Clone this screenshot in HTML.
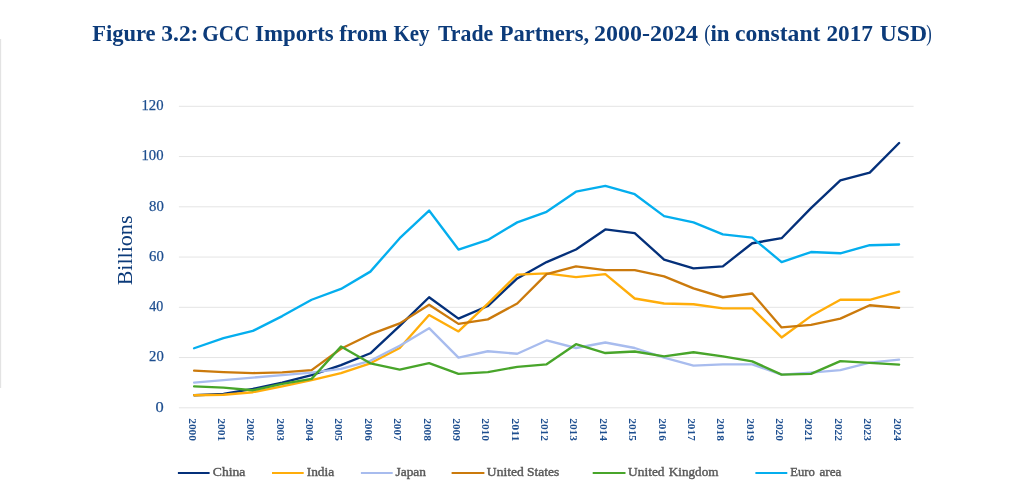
<!DOCTYPE html>
<html><head><meta charset="utf-8"><title>Figure 3.2</title>
<style>
html,body{margin:0;padding:0;background:#fff;}
body{width:1024px;height:503px;overflow:hidden;font-family:"Liberation Serif",serif;}
svg{display:block;will-change:transform;opacity:0.999;}
text{font-family:"Liberation Serif",serif;}
</style></head><body>
<svg width="1024" height="503" viewBox="0 0 1024 503">
<rect x="0" y="0" width="1024" height="503" fill="#ffffff"/>
<rect x="0" y="39" width="1.15" height="349" fill="#e3e3e3"/>
<g font-size="22.5" font-weight="bold" fill="#0c3b7a">
<text x="92.15" y="40.6" textLength="63.47" lengthAdjust="spacingAndGlyphs">Figure</text>
<text x="161.3" y="40.6" textLength="37.14" lengthAdjust="spacingAndGlyphs">3.2:</text>
<text x="202.37" y="40.6" textLength="47.18" lengthAdjust="spacingAndGlyphs">GCC</text>
<text x="255.11" y="40.6" textLength="78.54" lengthAdjust="spacingAndGlyphs">Imports</text>
<text x="339.2" y="40.6" textLength="48.23" lengthAdjust="spacingAndGlyphs">from</text>
<text x="393.44" y="40.6" textLength="36.03" lengthAdjust="spacingAndGlyphs">Key</text>
<text x="437.94" y="40.6" textLength="55.34" lengthAdjust="spacingAndGlyphs">Trade</text>
<text x="499.65" y="40.6" textLength="89.52" lengthAdjust="spacingAndGlyphs">Partners,</text>
<text x="594.08" y="40.6" textLength="103.92" lengthAdjust="spacingAndGlyphs">2000-2024</text>
<text x="704.33" y="40.6" font-weight="normal" textLength="6.31" lengthAdjust="spacingAndGlyphs">(</text>
<text x="710.42" y="40.6" textLength="19.17" lengthAdjust="spacingAndGlyphs">in</text>
<text x="735.03" y="40.6" textLength="85.4" lengthAdjust="spacingAndGlyphs">constant</text>
<text x="826.48" y="40.6" textLength="46.52" lengthAdjust="spacingAndGlyphs">2017</text>
<text x="879.81" y="40.6" textLength="47.25" lengthAdjust="spacingAndGlyphs">USD</text>
<text x="926.14" y="40.6" font-weight="normal" textLength="5.48" lengthAdjust="spacingAndGlyphs">)</text>
</g>
<g stroke="#e4e4e4" stroke-width="1">
<line x1="178.9" x2="913.6" y1="407.80" y2="407.80"/>
<line x1="178.9" x2="913.6" y1="357.55" y2="357.55"/>
<line x1="178.9" x2="913.6" y1="307.30" y2="307.30"/>
<line x1="178.9" x2="913.6" y1="257.05" y2="257.05"/>
<line x1="178.9" x2="913.6" y1="206.80" y2="206.80"/>
<line x1="178.9" x2="913.6" y1="156.55" y2="156.55"/>
<line x1="178.9" x2="913.6" y1="106.30" y2="106.30"/>
</g>
<g font-size="14.8" fill="#1d4e8f" stroke="#1d4e8f" stroke-width="0.25">
<text x="155.53" y="411.60" textLength="8.22" lengthAdjust="spacingAndGlyphs">0</text>
<text x="149.05" y="361.35" textLength="14.69" lengthAdjust="spacingAndGlyphs">20</text>
<text x="149.26" y="311.10" textLength="14.02" lengthAdjust="spacingAndGlyphs">40</text>
<text x="149.04" y="260.85" textLength="14.71" lengthAdjust="spacingAndGlyphs">60</text>
<text x="149.03" y="210.60" textLength="14.76" lengthAdjust="spacingAndGlyphs">80</text>
<text x="141.53" y="160.35" textLength="22.07" lengthAdjust="spacingAndGlyphs">100</text>
<text x="141.53" y="110.10" textLength="22.07" lengthAdjust="spacingAndGlyphs">120</text>
</g>
<text transform="translate(131.5,285.35) rotate(-90)" font-size="20.5" fill="#0c3b7a" textLength="69.83" lengthAdjust="spacingAndGlyphs">Billions</text>
<g font-size="11.3" font-weight="bold" fill="#1d4e8f">
<text transform="translate(188.60,418.22) rotate(90)" textLength="22.73" lengthAdjust="spacingAndGlyphs">2000</text>
<text transform="translate(217.97,418.22) rotate(90)" textLength="23.14" lengthAdjust="spacingAndGlyphs">2001</text>
<text transform="translate(247.35,418.22) rotate(90)" textLength="22.79" lengthAdjust="spacingAndGlyphs">2002</text>
<text transform="translate(276.73,418.22) rotate(90)" textLength="22.76" lengthAdjust="spacingAndGlyphs">2003</text>
<text transform="translate(306.10,418.22) rotate(90)" textLength="22.79" lengthAdjust="spacingAndGlyphs">2004</text>
<text transform="translate(335.48,418.22) rotate(90)" textLength="22.83" lengthAdjust="spacingAndGlyphs">2005</text>
<text transform="translate(364.85,418.22) rotate(90)" textLength="22.58" lengthAdjust="spacingAndGlyphs">2006</text>
<text transform="translate(394.23,418.22) rotate(90)" textLength="22.57" lengthAdjust="spacingAndGlyphs">2007</text>
<text transform="translate(423.60,418.22) rotate(90)" textLength="22.79" lengthAdjust="spacingAndGlyphs">2008</text>
<text transform="translate(452.98,418.22) rotate(90)" textLength="22.65" lengthAdjust="spacingAndGlyphs">2009</text>
<text transform="translate(482.35,418.22) rotate(90)" textLength="22.73" lengthAdjust="spacingAndGlyphs">2010</text>
<text transform="translate(511.73,418.19) rotate(90)" textLength="23.31" lengthAdjust="spacingAndGlyphs">2011</text>
<text transform="translate(541.10,418.22) rotate(90)" textLength="22.79" lengthAdjust="spacingAndGlyphs">2012</text>
<text transform="translate(570.48,418.22) rotate(90)" textLength="22.76" lengthAdjust="spacingAndGlyphs">2013</text>
<text transform="translate(599.85,418.22) rotate(90)" textLength="22.79" lengthAdjust="spacingAndGlyphs">2014</text>
<text transform="translate(629.23,418.22) rotate(90)" textLength="22.83" lengthAdjust="spacingAndGlyphs">2015</text>
<text transform="translate(658.60,418.22) rotate(90)" textLength="22.58" lengthAdjust="spacingAndGlyphs">2016</text>
<text transform="translate(687.98,418.22) rotate(90)" textLength="22.57" lengthAdjust="spacingAndGlyphs">2017</text>
<text transform="translate(717.35,418.22) rotate(90)" textLength="22.79" lengthAdjust="spacingAndGlyphs">2018</text>
<text transform="translate(746.73,418.22) rotate(90)" textLength="22.65" lengthAdjust="spacingAndGlyphs">2019</text>
<text transform="translate(776.10,418.22) rotate(90)" textLength="22.73" lengthAdjust="spacingAndGlyphs">2020</text>
<text transform="translate(805.48,418.22) rotate(90)" textLength="23.14" lengthAdjust="spacingAndGlyphs">2021</text>
<text transform="translate(834.85,418.22) rotate(90)" textLength="22.79" lengthAdjust="spacingAndGlyphs">2022</text>
<text transform="translate(864.23,418.22) rotate(90)" textLength="22.76" lengthAdjust="spacingAndGlyphs">2023</text>
<text transform="translate(893.60,418.22) rotate(90)" textLength="22.79" lengthAdjust="spacingAndGlyphs">2024</text>
</g>
<g fill="none" stroke-width="2.35" stroke-linejoin="round" stroke-linecap="round">
<polyline stroke="#04307a" points="194.10,395.24 223.47,393.98 252.85,388.96 282.23,382.68 311.60,375.14 340.98,365.09 370.35,353.28 399.73,325.89 429.10,297.25 458.48,318.61 487.85,306.04 517.23,278.41 546.60,262.07 575.98,249.51 605.35,229.41 634.73,233.18 664.10,259.56 693.48,268.36 722.85,266.35 752.23,243.23 781.60,238.21 810.98,208.06 840.35,180.42 869.73,172.63 899.10,142.98"/>
<polyline stroke="#ffad0a" points="194.10,395.24 223.47,394.74 252.85,392.22 282.23,386.44 311.60,380.16 340.98,373.13 370.35,363.33 399.73,348.00 429.10,315.09 458.48,331.42 487.85,303.53 517.23,274.64 546.60,273.38 575.98,277.15 605.35,274.13 634.73,298.51 664.10,303.53 693.48,304.28 722.85,308.31 752.23,308.31 781.60,337.45 810.98,316.09 840.35,299.76 869.73,299.76 899.10,291.72"/>
<polyline stroke="#a8bcee" points="194.10,382.68 223.47,380.16 252.85,377.65 282.23,375.14 311.60,372.62 340.98,368.86 370.35,360.82 399.73,345.74 429.10,328.15 458.48,357.55 487.85,351.27 517.23,353.78 546.60,340.47 575.98,348.00 605.35,342.48 634.73,348.00 664.10,357.55 693.48,365.59 722.85,364.33 752.23,364.33 781.60,374.63 810.98,372.62 840.35,370.11 869.73,362.57 899.10,359.56"/>
<polyline stroke="#cb7a0c" points="194.10,370.62 223.47,372.12 252.85,373.13 282.23,372.37 311.60,370.11 340.98,348.76 370.35,334.44 399.73,323.38 429.10,304.79 458.48,323.88 487.85,319.36 517.23,303.53 546.60,274.13 575.98,266.35 605.35,270.12 634.73,270.12 664.10,276.40 693.48,288.46 722.85,297.25 752.23,293.48 781.60,327.40 810.98,324.89 840.35,318.61 869.73,305.29 899.10,307.80"/>
<polyline stroke="#48a52a" points="194.10,386.44 223.47,387.70 252.85,390.21 282.23,383.93 311.60,378.91 340.98,346.50 370.35,363.33 399.73,369.61 429.10,363.08 458.48,373.88 487.85,372.12 517.23,366.85 546.60,364.33 575.98,344.23 605.35,353.03 634.73,351.52 664.10,356.29 693.48,352.27 722.85,356.29 752.23,361.32 781.60,374.63 810.98,373.88 840.35,361.07 869.73,362.83 899.10,364.59"/>
<polyline stroke="#04aeee" points="194.10,348.25 223.47,338.20 252.85,330.92 282.23,316.09 311.60,299.76 340.98,288.96 370.35,271.62 399.73,238.21 429.10,210.57 458.48,249.51 487.85,239.97 517.23,222.38 546.60,211.82 575.98,191.72 605.35,185.95 634.73,194.24 664.10,216.10 693.48,222.38 722.85,234.44 752.23,237.70 781.60,262.07 810.98,252.03 840.35,253.28 869.73,245.24 899.10,244.49"/>
</g>
<g stroke-width="2">
<line x1="177.9" x2="209.6" y1="473" y2="473" stroke="#04307a"/>
<line x1="272.0" x2="303.7" y1="473" y2="473" stroke="#ffad0a"/>
<line x1="360.9" x2="392.7" y1="473" y2="473" stroke="#a8bcee"/>
<line x1="451.6" x2="484.4" y1="473" y2="473" stroke="#cb7a0c"/>
<line x1="592.7" x2="625.5" y1="473" y2="473" stroke="#48a52a"/>
<line x1="755.4" x2="787.3" y1="473" y2="473" stroke="#04aeee"/>
</g>
<g font-size="12.3" fill="#595959" stroke="#595959" stroke-width="0.4">
<text x="212.86" y="475.75" textLength="32.54" lengthAdjust="spacingAndGlyphs">China</text>
<text x="306.69" y="475.75" textLength="27.53" lengthAdjust="spacingAndGlyphs">India</text>
<text x="395.50" y="475.75" textLength="30.48" lengthAdjust="spacingAndGlyphs">Japan</text>
<text x="486.88" y="475.75" textLength="36.87" lengthAdjust="spacingAndGlyphs">United</text>
<text x="526.94" y="475.75" textLength="32.22" lengthAdjust="spacingAndGlyphs">States</text>
<text x="628.08" y="475.75" textLength="36.47" lengthAdjust="spacingAndGlyphs">United</text>
<text x="668.79" y="475.75" textLength="49.66" lengthAdjust="spacingAndGlyphs">Kingdom</text>
<text x="790.19" y="475.75" textLength="24.56" lengthAdjust="spacingAndGlyphs">Euro</text>
<text x="819.52" y="475.75" textLength="21.96" lengthAdjust="spacingAndGlyphs">area</text>
</g>
</svg>
</body></html>
